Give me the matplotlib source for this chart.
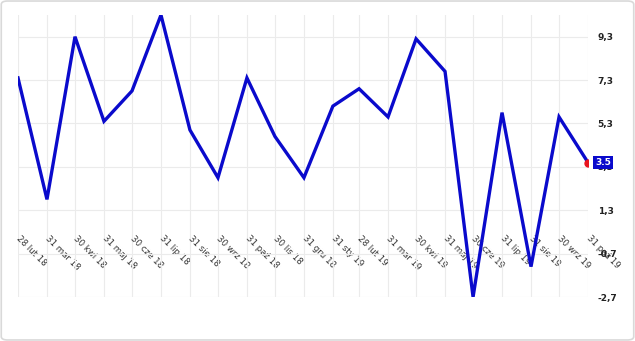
import numpy as np
import pandas as pd
import matplotlib
matplotlib.use('Agg')
import matplotlib.pyplot as plt
from matplotlib.patches import FancyBboxPatch
from matplotlib.ticker import FuncFormatter

# Data
dates = ['2018-02-28', '2018-03-31', '2018-04-30', '2018-05-31', '2018-06-30',
         '2018-07-31', '2018-08-31', '2018-09-30', '2018-10-31', '2018-11-30',
         '2018-12-31', '2019-01-31', '2019-02-28', '2019-03-31', '2019-04-30',
         '2019-05-31', '2019-06-30', '2019-07-31', '2019-08-31', '2019-09-30',
         '2019-10-31']
labels = ['28 lut 18', '31 mar 18', '30 kwi 18', '31 maj 18', '30 cze 18',
          '31 lip 18', '31 sie 18', '30 wrz 18', '31 paź 18', '30 lis 18',
          '31 gru 18', '31 sty 19', '28 lut 19', '31 mar 19', '30 kwi 19',
          '31 maj 19', '30 cze 19', '31 lip 19', '31 sie 19', '30 wrz 19',
          '31 paź 19']
values = [7.4, 1.8, 9.3, 5.4, 6.8, 10.3, 5.0, 2.8, 7.4, 4.7, 2.8, 6.1, 6.9,
          5.6, 9.2, 7.7, -2.7, 5.8, -1.3, 5.6, 3.5]
yticks = [-2.7, -0.7, 1.3, 3.3, 5.3, 7.3, 9.3]

x = pd.to_datetime(dates)

fig = plt.figure(figsize=(6.35, 3.41), dpi=100)
ax = fig.add_axes([18 / 635, 1 - 297 / 341, 570 / 635, 282 / 341])

# frame around the whole picture
fig.patches.append(FancyBboxPatch((0.002, 0.003), 0.996, 0.994,
                                  boxstyle='round,pad=0,rounding_size=0.01',
                                  transform=fig.transFigure, fill=False,
                                  edgecolor='#d9d9d9', linewidth=1.2))

ax.plot(x, values, color='#0a0acc', linewidth=2.4, solid_joinstyle='miter',
        zorder=3)
ax.plot(x[-1], values[-1], 'o', color='#e8141e', markersize=5, zorder=4)

ax.set_xlim(x[0], x[-1])
ax.set_ylim(min(values), max(values))

ax.set_xticks(x)
ax.set_xticklabels(labels)
ax.set_yticks(yticks)
ax.yaxis.set_major_formatter(FuncFormatter(lambda v, p: f'{v:.1f}'.replace('.', ',')))
ax.yaxis.tick_right()

ax.grid(True, color='#ebebeb', linewidth=0.8)
for s in ax.spines.values():
    s.set_visible(False)
ax.spines['bottom'].set_position(('data', 0))

ax.tick_params(axis='y', length=0, pad=7, labelsize=6.5, labelcolor='#222222')
ax.tick_params(axis='x', length=0, pad=-1, labelsize=6.2, labelcolor='#333333')
for lab in ax.get_xticklabels():
    lab.set_rotation(-45)
    lab.set_ha('left')
    lab.set_va('center')
    lab.set_rotation_mode('anchor')
for lab in ax.get_yticklabels():
    lab.set_fontweight('bold')

ax.annotate(f'{values[-1]}', (x[-1], values[-1]), xytext=(7, 0),
            textcoords='offset pixels', ha='left', va='center',
            color='white', fontsize=6.5, fontweight='bold',
            bbox=dict(boxstyle='square,pad=0.25', facecolor='#0a0acc',
                      edgecolor='none'),
            annotation_clip=False, zorder=5)

fig.savefig('out.png', dpi=100)
